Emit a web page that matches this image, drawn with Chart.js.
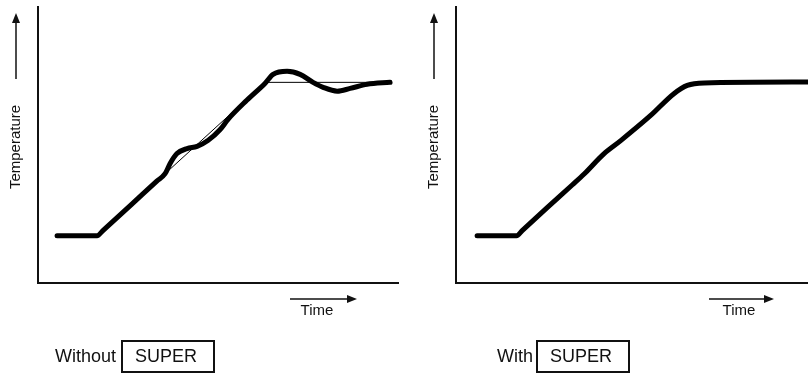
<!DOCTYPE html>
<html>
<head>
<meta charset="utf-8">
<script src="https://cdn.jsdelivr.net/npm/chart.js@4.4.1/dist/chart.umd.min.js"></script>
<style>
  html, body { margin: 0; padding: 0; background: #fff; }
  #wrap { position: relative; width: 808px; height: 374px; }
  .pane { position: absolute; top: 0; width: 404px; height: 374px; }
</style>
</head>
<body>
<div id="wrap">
  <div class="pane" style="left:0"><canvas id="without"></canvas></div>
  <div class="pane" style="left:404px"><canvas id="with"></canvas></div>
</div>
<script>
// values, time and temperature both in % of axis
var withoutTime = [5.3, 16.4, 18.1, 26.0, 33.0, 35.3, 36.7, 38.6, 41.4, 44.2, 47.2, 50.6, 52.8, 58.0, 63.1, 65.3, 69.2, 72.8, 76.4, 79.2, 83.1, 86.7, 91.4, 97.8];
var withoutTemp = [17.1, 17.1, 19.1, 28.5, 36.9, 39.6, 43.3, 46.9, 48.7, 49.5, 51.6, 55.6, 59.3, 66.2, 72.4, 75.6, 76.7, 75.6, 72.7, 70.9, 69.5, 70.5, 72.0, 72.7];

// ideal ramp + setpoint (thin line)
var idealTime = [16.4, 63.1, 97.8];
var idealTemp = [17.1, 72.7, 72.7];

var withTime = [6.0, 17.2, 18.8, 25.9, 33.0, 36.4, 42.0, 46.8, 55.3, 61.9, 65.7, 70.5, 100];
var withTemp = [17.1, 17.1, 19.0, 27.3, 35.5, 39.5, 46.8, 51.6, 60.7, 68.6, 71.6, 72.5, 72.8];

var labelWithout = 'Without';
var labelWith = 'With';

function pts(xs, ys) {
    return xs.map(function (x, i) { return { x: x, y: ys[i] }; });
}

function arrow(ctx, x1, y1, x2, y2) {
    var a = Math.atan2(y2 - y1, x2 - x1);
    ctx.beginPath();
    ctx.moveTo(x1, y1);
    ctx.lineTo(x2 - 6 * Math.cos(a), y2 - 6 * Math.sin(a));
    ctx.stroke();
    ctx.save();
    ctx.translate(x2, y2);
    ctx.rotate(a);
    ctx.beginPath();
    ctx.moveTo(0, 0);
    ctx.lineTo(-10, -4);
    ctx.lineTo(-10, 4);
    ctx.closePath();
    ctx.fill();
    ctx.restore();
}

// arrows, axis names and the "SUPER" caption
var notes = {
    id: 'notes',
    afterDraw: function (chart, args, o) {
        var ctx = chart.ctx;
        ctx.save();
        ctx.strokeStyle = '#111';
        ctx.fillStyle = '#111';
        ctx.lineWidth = 1.5;

        arrow(ctx, o.upX, 79, o.upX, 13);
        arrow(ctx, o.timeX0, 299, o.timeX1, 299);

        ctx.font = '15px "Liberation Sans", Arial, sans-serif';
        ctx.textBaseline = 'middle';
        ctx.textAlign = 'center';
        ctx.fillText('Time', o.timeLabelX, 311);

        ctx.save();
        ctx.translate(o.upX, 147);
        ctx.rotate(-Math.PI / 2);
        ctx.fillText('Temperature', 0, 0);
        ctx.restore();

        ctx.font = '18px "Liberation Sans", Arial, sans-serif';
        ctx.textAlign = 'left';
        ctx.fillText(o.caption, o.captionX, 357);
        ctx.lineWidth = 2;
        ctx.strokeRect(o.boxX0, 341, o.boxX1 - o.boxX0, 31);
        ctx.fillText('SUPER', o.boxX0 + 13, 357);
        ctx.restore();
    }
};

function makeChart(id, datasets, padding, noteOpts) {
    return new Chart(document.getElementById(id), {
        type: 'scatter',
        data: { datasets: datasets },
        plugins: [notes],
        options: {
            responsive: false,
            animation: false,
            layout: { padding: padding },
            plugins: {
                legend: { display: false },
                tooltip: { enabled: false },
                notes: noteOpts
            },
            elements: { point: { radius: 0 } },
            scales: {
                x: {
                    type: 'linear', min: 0, max: 100,
                    grid: { display: false },
                    ticks: { display: false },
                    border: { display: true, color: '#111', width: 2 }
                },
                y: {
                    type: 'linear', min: 0, max: 100,
                    grid: { display: false },
                    ticks: { display: false },
                    border: { display: true, color: '#111', width: 2 }
                }
            }
        }
    });
}

function thick(xs, ys) {
    return {
        data: pts(xs, ys),
        showLine: true,
        borderColor: '#000',
        borderWidth: 5,
        borderCapStyle: 'round',
        borderJoinStyle: 'round',
        cubicInterpolationMode: 'monotone',
        clip: false
    };
}

document.getElementById('without').width = 404;
document.getElementById('without').height = 374;
document.getElementById('with').width = 404;
document.getElementById('with').height = 374;

makeChart('without', [
    {
        data: pts(idealTime, idealTemp),
        showLine: true,
        borderColor: '#000',
        borderWidth: 1,
        tension: 0
    },
    thick(withoutTime, withoutTemp)
], { left: 30, top: 7, right: 6, bottom: 83 },
{ upX: 16, timeX0: 290, timeX1: 357, timeLabelX: 317, caption: labelWithout, captionX: 55, boxX0: 122, boxX1: 214 });

makeChart('with', [
    thick(withTime, withTemp)
], { left: 44, top: 7, right: 0, bottom: 83 },
{ upX: 30, timeX0: 305, timeX1: 370, timeLabelX: 335, caption: labelWith, captionX: 93, boxX0: 133, boxX1: 225 });
</script>
</body>
</html>
